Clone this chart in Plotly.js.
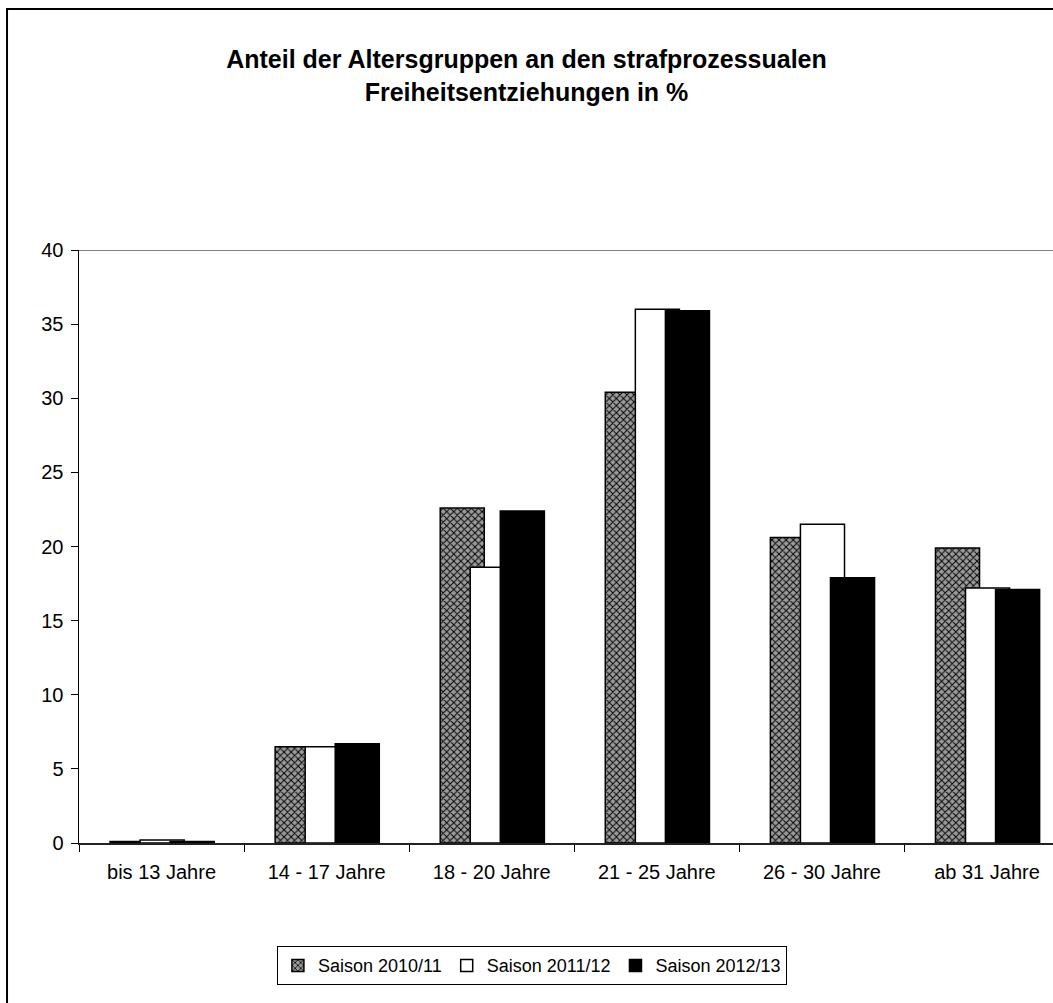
<!DOCTYPE html>
<html>
<head>
<meta charset="utf-8">
<script src="https://cdn.plot.ly/plotly-3.0.1.min.js"></script>
<style>html,body{margin:0;padding:0;background:#fff;overflow:hidden;}</style>
</head>
<body>
<div id="chart" style="width:1053px;height:1003px;"></div>
<script>
var categories = ["bis 13 Jahre", "14 - 17 Jahre", "18 - 20 Jahre", "21 - 25 Jahre", "26 - 30 Jahre", "ab 31 Jahre"];
var seriesNames = ["Saison 2010/11", "Saison 2011/12", "Saison 2012/13"];
var saison2010 = [0.1, 6.5, 22.6, 30.4, 20.6, 19.9];
var saison2011 = [0.2, 6.5, 18.6, 36.0, 21.5, 17.2];
var saison2012 = [0.1, 6.7, 22.4, 35.9, 17.9, 17.1];
var yTicks = [0, 5, 10, 15, 20, 25, 30, 35, 40];

var barW = 0.267;
var traces = [
  {
    type: "bar", name: seriesNames[0], x: categories, y: saison2010,
    width: barW, offset: -0.312,
    marker: {color: "#8c8c8c", line: {color: "#000", width: 1.5},
      pattern: {shape: "x", fgcolor: "#000", bgcolor: "#9a9a9a", size: 5, solidity: 0.35}}
  },
  {
    type: "bar", name: seriesNames[1], x: categories, y: saison2011,
    width: barW, offset: -0.130,
    marker: {color: "#ffffff", line: {color: "#000", width: 1.5}}
  },
  {
    type: "bar", name: seriesNames[2], x: categories, y: saison2012,
    width: barW, offset: 0.052,
    marker: {color: "#000000", line: {color: "#000", width: 1.5}}
  }
];

var layout = {
  width: 1053, height: 1003,
  margin: {l: 79, r: 0, t: 250, b: 160, pad: 0},
  paper_bgcolor: "#fff", plot_bgcolor: "#fff",
  barmode: "overlay",
  font: {family: "Liberation Sans, Arial, sans-serif", size: 20, color: "#000"},
  title: {
    text: "<b>Anteil der Altersgruppen an den strafprozessualen<br>Freiheitsentziehungen in %</b>",
    font: {size: 25, color: "#000", family: "Liberation Sans, Arial, sans-serif"},
    x: 0.5, xanchor: "center", xref: "container",
    y: 0.932, yanchor: "middle", yref: "container"
  },
  xaxis: {
    type: "category", range: [-0.5, 5.4],
    showline: true, linecolor: "#222", linewidth: 2,
    ticks: "outside", ticklen: 7, tickcolor: "#000", tickwidth: 1,
    tickson: "boundaries", showgrid: false, zeroline: false,
    tickfont: {size: 20}, ticklabelstandoff: 10, fixedrange: true
  },
  yaxis: {
    range: [0, 40], tickvals: yTicks,
    showline: true, linecolor: "#000", linewidth: 1.5,
    ticks: "outside", ticklen: 7, tickcolor: "#000",
    showgrid: false, zeroline: false,
    tickfont: {size: 20}, ticklabelstandoff: 3, fixedrange: true
  },
  showlegend: true,
  legend: {
    orientation: "h", x: 0.465, xanchor: "center", xref: "paper",
    y: -0.207, yanchor: "middle",
    bordercolor: "#000", borderwidth: 1, bgcolor: "#fff",
    font: {size: 18}, itemwidth: 30, tracegroupgap: 0,
    traceorder: "normal"
  },
  shapes: [
    {type: "line", xref: "paper", yref: "y", x0: 0, x1: 1, y0: 40, y1: 40,
     line: {color: "#808080", width: 2}},
    {type: "rect", xref: "paper", yref: "paper", x0: -0.0739, x1: 1.2, y0: -0.5, y1: 1.4064,
     line: {color: "#000", width: 2}, fillcolor: "rgba(0,0,0,0)", layer: "below"}
  ]
};

Plotly.newPlot("chart", traces, layout, {displayModeBar: false, staticPlot: true});
</script>
</body>
</html>
